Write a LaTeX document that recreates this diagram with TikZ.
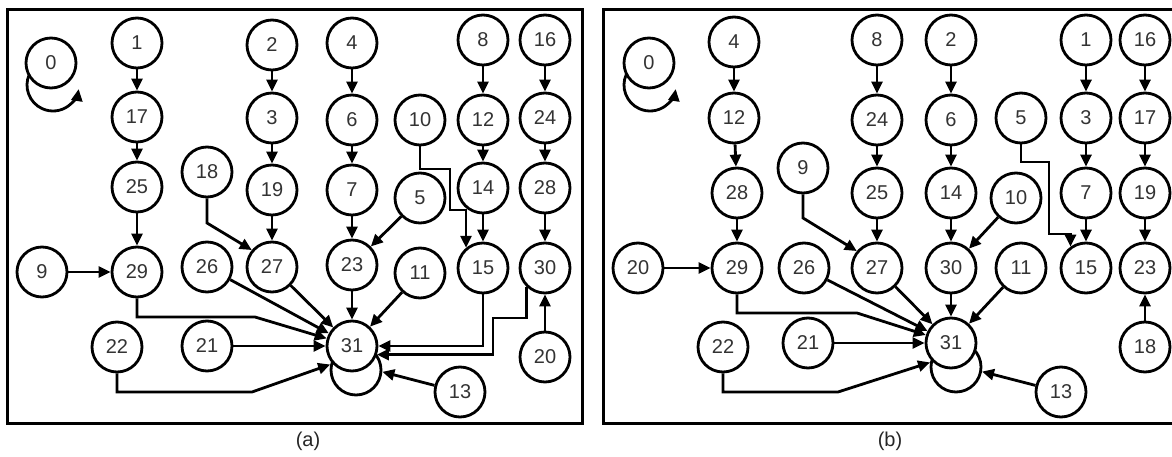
\documentclass[tikz,border=0pt]{standalone}
\usepackage{fontspec}
\setmainfont{Liberation Sans}
\usetikzlibrary{arrows.meta}
\begin{document}
\begin{tikzpicture}[x=1pt,y=-1pt,
  v/.style={circle,draw,line width=2.8pt,fill=white,minimum size=50pt,inner sep=0pt,
            text=black!80,font=\fontsize{20}{22}\selectfont},
  loopring/.style={circle,draw,line width=2.8pt,minimum size=50pt,inner sep=0pt},
  arr/.style={line width=2.8pt,-{Triangle[length=12pt,width=11pt]}},
  frame/.style={line width=3pt},
  sublabel/.style={font=\fontsize{20}{22}\selectfont,text=black!85}]
\useasboundingbox (0,0) rectangle (1172,457);

% ---------- panel (a) ----------
\draw[frame] (7,10) rectangle (582,423);
\node[sublabel] (la) at (308,441) {(a)};

% self loops (drawn first, hidden under the nodes)
\draw[arr] (53,85) ++(204:26) arc[start angle=204,end angle=9,radius=26];
\node[loopring] (ak31) at (356,370) {};

\node[v] (a0)  at (51,63)  {0};
\node[v] (a1)  at (137,43) {1};
\node[v] (a17) at (137,117) {17};
\node[v] (a25) at (137,187) {25};
\node[v] (a29) at (137,272) {29};
\node[v] (a2)  at (272,45) {2};
\node[v] (a3)  at (272,118) {3};
\node[v] (a19) at (272,190) {19};
\node[v] (a27) at (272,267) {27};
\node[v] (a18) at (207,172) {18};
\node[v] (a26) at (207,267) {26};
\node[v] (a21) at (207,346) {21};
\node[v] (a22) at (117,347) {22};
\node[v] (a9)  at (42,272) {9};
\node[v] (a4)  at (352,43) {4};
\node[v] (a6)  at (352,120) {6};
\node[v] (a7)  at (352,190) {7};
\node[v] (a23) at (352,265) {23};
\node[v] (a31) at (352,346) {31};
\node[v] (a10) at (420,120) {10};
\node[v] (a5)  at (420,198) {5};
\node[v] (a11) at (420,273) {11};
\node[v] (a8)  at (483,40) {8};
\node[v] (a12) at (483,120) {12};
\node[v] (a14) at (483,188) {14};
\node[v] (a15) at (483,268) {15};
\node[v] (a16) at (545,40) {16};
\node[v] (a24) at (545,118) {24};
\node[v] (a28) at (545,188) {28};
\node[v] (a30) at (545,268) {30};
\node[v] (a20) at (545,357) {20};
\node[v] (a13) at (460,392) {13};

\draw[arr] (a1) -- (a17);
\draw[arr] (a17) -- (a25);
\draw[arr] (a25) -- (a29);
\draw[arr] (a2) -- (a3);
\draw[arr] (a3) -- (a19);
\draw[arr] (a19) -- (a27);
\draw[arr] (a4) -- (a6);
\draw[arr] (a6) -- (a7);
\draw[arr] (a7) -- (a23);
\draw[arr] (a8) -- (a12);
\draw[arr] (a12) -- (a14);
\draw[arr] (a14) -- (a15);
\draw[arr] (a16) -- (a24);
\draw[arr] (a24) -- (a28);
\draw[arr] (a28) -- (a30);
\draw[arr] (a20) -- (a30);
\draw[arr] (a9) -- (a29);
\draw[arr] (a18.south) -- (207,223) -- (a27.140);
\draw[arr] (a5) -- (a23);
\draw[arr] (a10.south) -- (420,169) -- (450,169) -- (450,210) -| (a15.130);
\draw[arr] (a29.south) -- (137,317) -- (255,317) -- (a31);
\draw[arr] (a26) -- (a31);
\draw[arr] (a21) -- (a31);
\draw[arr] (a27) -- (a31);
\draw[arr] (a23) -- (a31);
\draw[arr] (a11) -- (a31);
\draw[arr] (a15.south) |- (a31.east);
\draw[arr] (a30.226) -- (a30.226 |- 0,318) -- (493,318) |- (a31.-19);
\draw[arr] (a22.south) -- (117,392) -- (252,392) -- (ak31.168);
\draw[arr] (a13) -- (ak31.-4);

% ---------- panel (b) ----------
\draw[frame] (1182,10) -- (603,10) -- (603,423) -- (1182,423);
\node[sublabel] (lb) at (890,441) {(b)};

\draw[arr] (650,85) ++(204:26) arc[start angle=204,end angle=9,radius=26];
\node[loopring] (bk31) at (956,367) {};

\node[v] (b0)  at (649,63) {0};
\node[v] (b4)  at (734,42) {4};
\node[v] (b12) at (734,118) {12};
\node[v] (b28) at (737,193) {28};
\node[v] (b29) at (737,268) {29};
\node[v] (b20) at (638,268) {20};
\node[v] (b22) at (723,347) {22};
\node[v] (b9)  at (803,168) {9};
\node[v] (b26) at (804,268) {26};
\node[v] (b21) at (808,343) {21};
\node[v] (b8)  at (877,40) {8};
\node[v] (b24) at (877,120) {24};
\node[v] (b25) at (877,193) {25};
\node[v] (b27) at (877,268) {27};
\node[v] (b2)  at (951,40) {2};
\node[v] (b6)  at (951,120) {6};
\node[v] (b14) at (951,193) {14};
\node[v] (b30) at (951,268) {30};
\node[v] (b31) at (951,343) {31};
\node[v] (b5)  at (1021,118) {5};
\node[v] (b10) at (1016,198) {10};
\node[v] (b11) at (1021,268) {11};
\node[v] (b1)  at (1086,40) {1};
\node[v] (b3)  at (1086,118) {3};
\node[v] (b7)  at (1086,193) {7};
\node[v] (b15) at (1086,268) {15};
\node[v] (b13) at (1061,392) {13};
\node[v] (b16) at (1145,40) {16};
\node[v] (b17) at (1145,118) {17};
\node[v] (b19) at (1145,193) {19};
\node[v] (b23) at (1145,268) {23};
\node[v] (b18) at (1145,347) {18};

\draw[arr] (b4) -- (b12);
\draw[arr] (b12) -- (b28);
\draw[arr] (b28) -- (b29);
\draw[arr] (b8) -- (b24);
\draw[arr] (b24) -- (b25);
\draw[arr] (b25) -- (b27);
\draw[arr] (b2) -- (b6);
\draw[arr] (b6) -- (b14);
\draw[arr] (b14) -- (b30);
\draw[arr] (b1) -- (b3);
\draw[arr] (b3) -- (b7);
\draw[arr] (b7) -- (b15);
\draw[arr] (b16) -- (b17);
\draw[arr] (b17) -- (b19);
\draw[arr] (b19) -- (b23);
\draw[arr] (b18) -- (b23);
\draw[arr] (b20) -- (b29);
\draw[arr] (b9.south) -- (803,218) -- (b27.140);
\draw[arr] (b10) -- (b30);
\draw[arr] (b5.south) -- (1021,162) -- (1049,162) -- (1049,234) -| (b15.126);
\draw[arr] (b29.south) -- (737,313) -- (857,313) -- (b31);
\draw[arr] (b26) -- (b31);
\draw[arr] (b21) -- (b31);
\draw[arr] (b27) -- (b31);
\draw[arr] (b30) -- (b31);
\draw[arr] (b11) -- (b31);
\draw[arr] (b22.south) -- (723,392) -- (838,392) -- (bk31.170);
\draw[arr] (b13) -- (bk31.-10);
\end{tikzpicture}
\end{document}
